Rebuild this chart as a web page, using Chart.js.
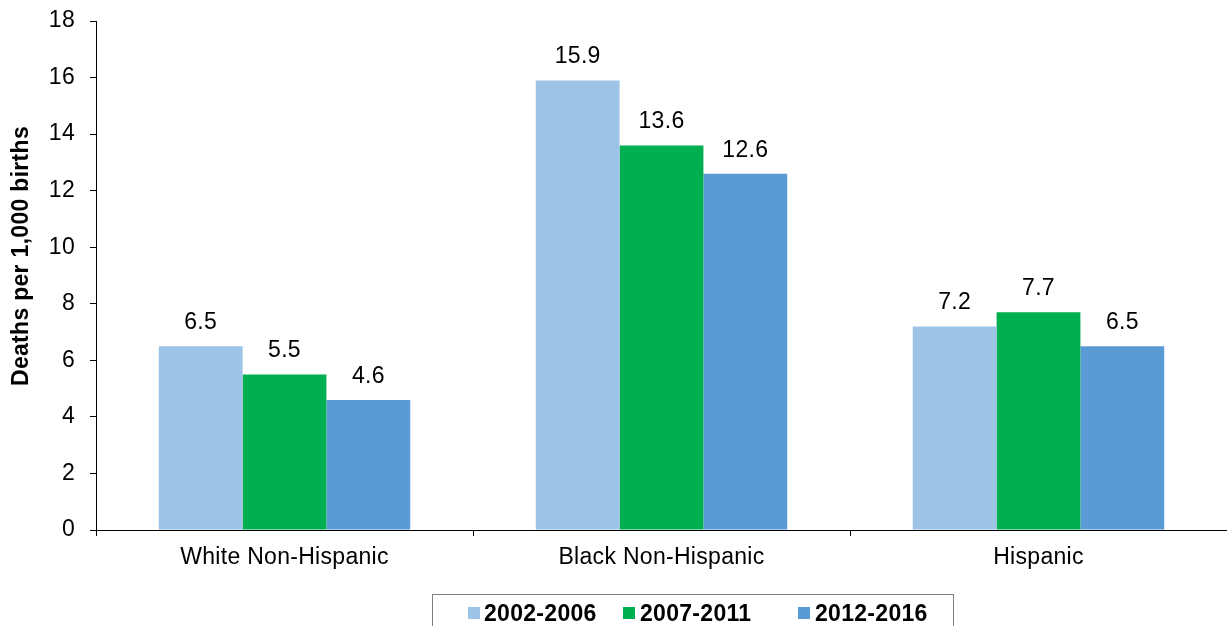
<!DOCTYPE html>
<html>
<head>
<meta charset="utf-8">
<script src="https://cdn.jsdelivr.net/npm/chart.js@4/dist/chart.umd.min.js"></script>
<style>
  html, body { margin: 0; padding: 0; background: #fff; }
  #wrap { width: 1227px; height: 626px; position: relative; }
</style>
</head>
<body>
<div id="wrap"><canvas id="c" width="1227" height="626"></canvas></div>
<script>
const categories = ['White Non-Hispanic', 'Black Non-Hispanic', 'Hispanic'];
const seriesNames = ['2002-2006', '2007-2011', '2012-2016'];
const values2002_2006 = [6.5, 15.9, 7.2];
const values2007_2011 = [5.5, 13.6, 7.7];
const values2012_2016 = [4.6, 12.6, 6.5];
const yTicks = [0, 2, 4, 6, 8, 10, 12, 14, 16, 18];
const yTitle = 'Deaths per 1,000 births';
const colors = ['#9DC3E6', '#00B050', '#5B9BD5'];

const FONT = '"Liberation Sans", Arial, sans-serif';

const spacingPlugin = {
  id: 'spacing',
  beforeUpdate(chart) { chart.ctx.letterSpacing = '0.3px'; },
  beforeDraw(chart) { chart.ctx.letterSpacing = '0.3px'; }
};

const labelsPlugin = {
  id: 'valueLabels',
  afterDatasetsDraw(chart) {
    const ctx = chart.ctx;
    ctx.save();
    ctx.font = '23px ' + FONT;
    ctx.fillStyle = '#000';
    ctx.textAlign = 'center';
    ctx.textBaseline = 'alphabetic';
    chart.data.datasets.forEach((ds, di) => {
      const meta = chart.getDatasetMeta(di);
      meta.data.forEach((bar, i) => {
        ctx.fillText(ds.data[i].toFixed(1), bar.x, bar.y - 17);
      });
    });
    ctx.restore();
  }
};

const decorPlugin = {
  id: 'decor',
  afterDraw(chart) {
    const ctx = chart.ctx;
    ctx.save();
    // y axis title
    ctx.font = 'bold 23px ' + FONT;
    ctx.fillStyle = '#000';
    ctx.textAlign = 'center';
    ctx.textBaseline = 'middle';
    ctx.translate(22, 256);
    ctx.rotate(-Math.PI / 2);
    ctx.fillText(yTitle, 0, 0);
    ctx.restore();

    // legend
    ctx.save();
    ctx.strokeStyle = '#7f7f7f';
    ctx.lineWidth = 1;
    ctx.strokeRect(432.5, 594.5, 521, 60);
    const sqX = [468, 623, 798];
    const txX = [484, 640, 815];
    ctx.font = 'bold 23px ' + FONT;
    ctx.textAlign = 'left';
    ctx.textBaseline = 'alphabetic';
    chart.data.datasets.forEach((ds, i) => {
      ctx.fillStyle = ds.backgroundColor;
      ctx.fillRect(sqX[i], 607, 12, 12);
      ctx.fillStyle = '#000';
      ctx.fillText(ds.label, txX[i], 621);
    });
    ctx.restore();
  }
};

new Chart(document.getElementById('c'), {
  type: 'bar',
  data: {
    labels: categories,
    datasets: [
      { label: seriesNames[0], data: values2002_2006, backgroundColor: colors[0] },
      { label: seriesNames[1], data: values2007_2011, backgroundColor: colors[1] },
      { label: seriesNames[2], data: values2012_2016, backgroundColor: colors[2] }
    ]
  },
  options: {
    responsive: false,
    animation: false,
    devicePixelRatio: 1,
    layout: { padding: { top: 21, right: 0, left: 0, bottom: 0 } },
    categoryPercentage: 0.667,
    barPercentage: 1.0,
    plugins: {
      legend: { display: false },
      tooltip: { enabled: false },
      title: { display: false }
    },
    scales: {
      x: {
        afterFit(s) { s.height = 96; s.paddingLeft = 0; s.paddingRight = 0; },
        grid: { display: true, drawOnChartArea: false, drawTicks: true, tickLength: 6, tickColor: '#000', offset: true },
        border: { display: true, color: '#000', width: 1 },
        ticks: { color: '#000', padding: 8, font: { family: FONT, size: 23 }, maxRotation: 0 }
      },
      y: {
        min: 0,
        max: 18,
        afterFit(s) { s.width = 96; s.paddingTop = 0; s.paddingBottom = 0; },
        afterBuildTicks(s) { s.ticks = yTicks.map(v => ({ value: v })); },
        grid: { display: true, drawOnChartArea: false, drawTicks: true, tickLength: 6, tickColor: '#000' },
        border: { display: true, color: '#000', width: 1 },
        ticks: { color: '#000', padding: 15, font: { family: FONT, size: 23 } }
      }
    }
  },
  plugins: [spacingPlugin, labelsPlugin, decorPlugin]
});
</script>
</body>
</html>
